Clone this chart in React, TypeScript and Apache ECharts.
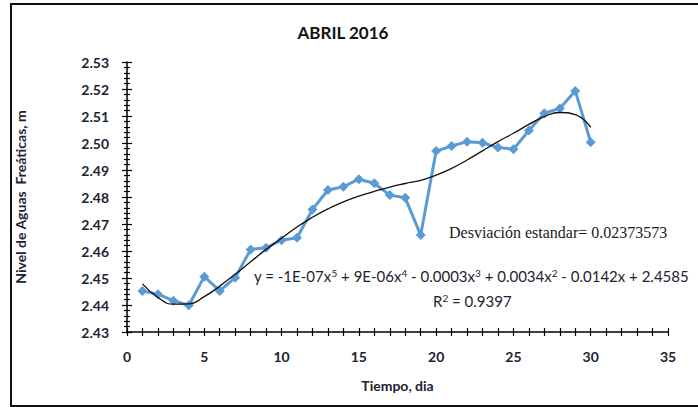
import React, { useEffect, useRef } from "react";
import * as echarts from "echarts";

const days = [1, 2, 3, 4, 5, 6, 7, 8, 9, 10, 11, 12, 13, 14, 15, 16, 17, 18, 19, 20, 21, 22, 23, 24, 25, 26, 27, 28, 29, 30];
const levels = [2.4452, 2.444, 2.4416, 2.4399, 2.4505, 2.4452, 2.4501, 2.4606, 2.4612, 2.464, 2.4649, 2.4754, 2.4826, 2.4838, 2.4866, 2.4851, 2.4807, 2.4797, 2.4659, 2.497, 2.4989, 2.5005, 2.5001, 2.4983, 2.4977, 2.5046, 2.511, 2.5128, 2.5193, 2.5003];
const trendX = [1, 2, 3, 4, 5, 6, 7, 8, 9, 10, 11, 12, 13, 14, 15, 16, 17, 18, 19, 20, 21, 22, 23, 24, 25, 26, 27, 28, 29, 30];
const trendY = [2.4478, 2.4428, 2.4403, 2.4404, 2.4431, 2.447, 2.4514, 2.456, 2.4606, 2.4647, 2.4689, 2.4725, 2.4756, 2.4782, 2.4803, 2.4821, 2.4837, 2.485, 2.4862, 2.4881, 2.4906, 2.4937, 2.4971, 2.5005, 2.5036, 2.5069, 2.5098, 2.5113, 2.5105, 2.5058];
const title = "ABRIL 2016";
const xName = "Tiempo, dia";
const yName = "Nivel de Aguas  Freáticas, m";
const equation = "y = -1E-07x{s|5} + 9E-06x{s|4} - 0.0003x{s|3} + 0.0034x{s|2} - 0.0142x + 2.4585";
const r2 = "R{s|2} = 0.9397";
const desv = "Desviación estandar= 0.02373573";

export default function App() {
  const ref = useRef<HTMLDivElement>(null);
  useEffect(() => {
    document.body.style.margin = "0";
    const chart = echarts.init(ref.current!, undefined, { renderer: "svg" });
    const font = "Lato";
    const lblColor = "#1e2230";
    const baseX = {
      type: "value" as const,
      min: 0,
      max: 35,
      interval: 5,
      position: "bottom" as const,
      splitLine: { show: false },
    };
    const baseY = {
      type: "value" as const,
      min: 2.43,
      max: 2.53,
      interval: 0.01,
      position: "left" as const,
      splitLine: { show: false },
    };
    const supRich = {
      s: { fontSize: 10, fontFamily: font, fill: "#1e2230", padding: [0, 0, 7, 0], verticalAlign: "bottom" },
    };
    chart.setOption({
      animation: false,
      backgroundColor: "#fff",
      grid: { left: 127, right: 30, top: 62, bottom: 75 },
      title: {
        text: title,
        left: 338,
        top: 19,
        textAlign: "center",
        textStyle: { fontFamily: font, fontWeight: "bold", fontSize: 17, color: "#111" },
      },
      xAxis: [
        {
          ...baseX,
          name: xName,
          nameLocation: "middle",
          nameGap: 46,
          nameTextStyle: { fontFamily: font, fontWeight: "bold", fontSize: 14, color: lblColor },
          axisLine: { show: true, onZero: false, lineStyle: { color: "#000", width: 1.5 } },
          axisTick: { show: true, inside: false, length: 4, lineStyle: { color: "#000", width: 1.2 } },
          minorTick: { show: true, splitNumber: 5, length: 4, lineStyle: { color: "#000", width: 1.2 } },
          axisLabel: { margin: 17, fontFamily: font, fontWeight: "bold", fontSize: 14, color: lblColor },
        },
        {
          ...baseX,
          axisLine: { show: false },
          axisTick: { show: true, inside: true, length: 4, lineStyle: { color: "#000", width: 1.2 } },
          minorTick: { show: true, splitNumber: 5, length: 4, lineStyle: { color: "#000", width: 1.2 } },
          axisLabel: { show: false },
        },
      ],
      yAxis: [
        {
          ...baseY,
          name: yName,
          nameLocation: "middle",
          nameGap: 100,
          nameTextStyle: { fontFamily: font, fontWeight: "bold", fontSize: 14, color: lblColor },
          axisLine: { show: true, onZero: false, lineStyle: { color: "#000", width: 1.5 } },
          axisTick: { show: true, inside: false, length: 5, lineStyle: { color: "#000", width: 1.2 } },
          minorTick: { show: true, splitNumber: 5, length: 3, lineStyle: { color: "#000", width: 1.2 } },
          axisLabel: {
            margin: 18,
            fontFamily: font,
            fontWeight: "bold",
            fontSize: 14,
            color: lblColor,
            formatter: (v: number) => v.toFixed(2),
          },
        },
        {
          ...baseY,
          axisLine: { show: false },
          axisTick: { show: true, inside: true, length: 5, lineStyle: { color: "#000", width: 1.2 } },
          minorTick: { show: true, splitNumber: 5, length: 3, lineStyle: { color: "#000", width: 1.2 } },
          axisLabel: { show: false },
        },
      ],
      series: [
        {
          type: "line",
          xAxisIndex: 0,
          yAxisIndex: 0,
          data: days.map((d, i) => [d, levels[i]]),
          symbol: "diamond",
          symbolSize: 10,
          lineStyle: { color: "#5B9BD5", width: 3 },
          itemStyle: { color: "#5B9BD5" },
          z: 2,
        },
        {
          type: "line",
          xAxisIndex: 0,
          yAxisIndex: 0,
          data: trendX.map((d, i) => [d, trendY[i]]),
          smooth: 0.5,
          symbol: "none",
          lineStyle: { color: "#111", width: 1.3 },
          z: 3,
        },
      ],
      graphic: [
        {
          type: "rect",
          shape: { x: 11, y: 4, width: 700, height: 402 },
          style: { fill: "none", stroke: "#111", lineWidth: 2 },
          silent: true,
        },
        {
          type: "text",
          x: 449,
          y: 232,
          style: {
            text: desv,
            fontFamily: "Liberation Serif",
            fontSize: 16,
            fill: "#1a1a1a",
            verticalAlign: "middle",
          },
        },
        {
          type: "text",
          x: 254,
          y: 276,
          style: {
            text: equation,
            fontFamily: font,
            fontSize: 15,
            fill: "#1e2230",
            verticalAlign: "middle",
            rich: supRich,
          },
        },
        {
          type: "text",
          x: 433,
          y: 301,
          style: {
            text: r2,
            fontFamily: font,
            fontSize: 15,
            fill: "#1e2230",
            verticalAlign: "middle",
            rich: supRich,
          },
        },
      ],
    });
    return () => chart.dispose();
  }, []);
  return <div ref={ref} style={{ width: 698, height: 407 }} />;
}
